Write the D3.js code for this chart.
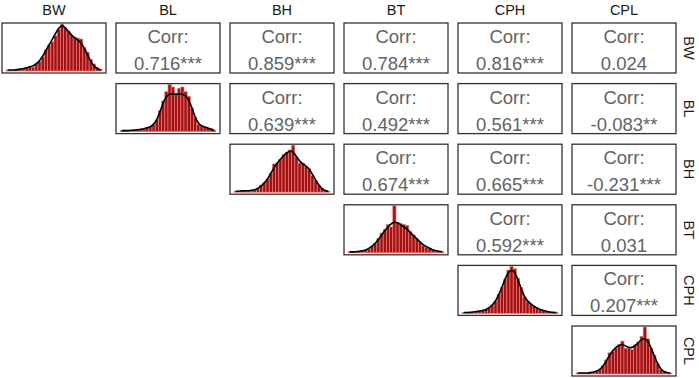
<!DOCTYPE html>
<html><head><meta charset="utf-8">
<script src="https://cdn.jsdelivr.net/npm/d3@7"></script>
<style>body{margin:0;background:#fff}svg{display:block}</style>
</head><body>
<script>
const variables = ["BW","BL","BH","BT","CPH","CPL"];
// correlation coefficients (upper triangle, row i, col j>i)
const corrBW  = ["0.716***","0.859***","0.784***","0.816***","0.024"];
const corrBL  = ["0.639***","0.492***","0.561***","-0.083**"];
const corrBH  = ["0.674***","0.665***","-0.231***"];
const corrBT  = ["0.592***","0.031"];
const corrCPH = ["0.207***"];
const corrRows = [corrBW, corrBL, corrBH, corrBT, corrCPH, []];

// histogram bar heights (relative) per variable, 30 bins
const histBW  = [0.02,0.02,0.02,0.03,0.03,0.05,0.08,0.1,0.08,0.15,0.2,0.3,0.45,0.55,0.62,0.75,0.88,1.0,0.92,0.85,0.75,0.72,0.7,0.68,0.5,0.4,0.25,0.15,0.08,0.04];
const histBL  = [0.02,0.02,0.02,0.03,0.03,0.04,0.05,0.06,0.08,0.1,0.15,0.25,0.45,0.65,0.85,1.0,0.95,0.82,0.92,0.95,0.85,0.75,0.5,0.3,0.15,0.12,0.1,0.08,0.06,0.03];
const histBH  = [0.02,0.02,0.03,0.03,0.04,0.03,0.05,0.08,0.15,0.2,0.28,0.4,0.6,0.62,0.7,0.8,0.85,0.9,1.0,0.75,0.62,0.62,0.55,0.5,0.35,0.25,0.15,0.08,0.04,0.02];
const histBT  = [0.02,0.02,0.02,0.03,0.04,0.06,0.08,0.14,0.2,0.3,0.42,0.5,0.6,0.55,1.0,0.65,0.62,0.6,0.58,0.45,0.38,0.3,0.22,0.15,0.12,0.1,0.06,0.04,0.03,0.02];
const histCPH = [0.02,0.02,0.02,0.03,0.04,0.05,0.06,0.08,0.12,0.18,0.25,0.4,0.55,0.72,0.92,1.0,0.95,0.75,0.55,0.35,0.25,0.2,0.15,0.12,0.08,0.06,0.05,0.03,0.02,0.02];
const histCPL = [0.02,0.02,0.02,0.02,0.03,0.04,0.06,0.1,0.18,0.3,0.45,0.48,0.55,0.62,0.7,0.55,0.55,0.52,0.62,0.68,0.8,1.0,0.75,0.55,0.4,0.22,0.1,0.05,0.03,0.02];
const hists = [histBW, histBL, histBH, histBT, histCPH, histCPL];

// density curve values at bin centres
const densBW  = [0.02,0.02,0.02,0.03,0.04,0.05,0.07,0.09,0.11,0.15,0.22,0.32,0.44,0.56,0.68,0.8,0.92,0.98,0.92,0.84,0.76,0.7,0.66,0.6,0.48,0.34,0.2,0.1,0.05,0.02];
const densBL  = [0.02,0.02,0.02,0.03,0.03,0.04,0.05,0.06,0.08,0.1,0.15,0.25,0.42,0.62,0.76,0.8,0.8,0.79,0.8,0.8,0.76,0.68,0.5,0.3,0.17,0.12,0.1,0.07,0.05,0.02];
const densBH  = [0.02,0.02,0.03,0.03,0.03,0.04,0.05,0.08,0.13,0.2,0.28,0.4,0.52,0.62,0.7,0.78,0.84,0.88,0.86,0.76,0.66,0.6,0.56,0.5,0.38,0.26,0.15,0.07,0.03,0.02];
const densBT  = [0.02,0.02,0.02,0.03,0.04,0.06,0.09,0.14,0.2,0.28,0.38,0.47,0.55,0.62,0.66,0.64,0.6,0.55,0.5,0.43,0.36,0.3,0.23,0.17,0.13,0.1,0.06,0.04,0.03,0.02];
const densCPH = [0.02,0.02,0.02,0.03,0.04,0.05,0.06,0.08,0.12,0.18,0.26,0.4,0.56,0.74,0.88,0.93,0.88,0.72,0.52,0.36,0.26,0.2,0.15,0.11,0.08,0.06,0.04,0.03,0.02,0.02];
const densCPL = [0.02,0.02,0.02,0.02,0.03,0.04,0.06,0.1,0.17,0.28,0.4,0.5,0.57,0.62,0.63,0.6,0.56,0.56,0.6,0.67,0.74,0.76,0.7,0.55,0.38,0.22,0.1,0.05,0.03,0.02];
const denss = [densBW, densBL, densBH, densBT, densCPH, densCPL];

const W = 699, H = 378;
const svg = d3.select("body").append("svg").attr("width", W).attr("height", H);

const colX = d3.scaleBand().domain(variables).range([2, 676]).paddingInner(10/114).paddingOuter(0);
const rowY = d3.scaleBand().domain(variables).range([23, 376]).paddingInner(10.6/60.6).paddingOuter(0);

const font = "'Liberation Sans', Arial, sans-serif";

// column strip labels
svg.selectAll("text.col").data(variables).join("text")
  .attr("x", d => colX(d) + colX.bandwidth()/2)
  .attr("y", 15)
  .attr("text-anchor", "middle")
  .attr("font-family", font).attr("font-size", 14.5).attr("fill", "#1a1a1a")
  .text(d => d);

// row strip labels (rotated)
svg.selectAll("text.row").data(variables).join("text")
  .attr("transform", d => `translate(${684},${rowY(d) + rowY.bandwidth()/2}) rotate(90)`)
  .attr("text-anchor", "middle")
  .attr("font-family", font).attr("font-size", 14.5).attr("fill", "#1a1a1a")
  .text(d => d);

const pw = colX.bandwidth(), ph = rowY.bandwidth();

variables.forEach((rv, i) => {
  variables.forEach((cv, j) => {
    if (j < i) return;
    const g = svg.append("g").attr("transform", `translate(${colX(cv)},${rowY(rv)})`);
    if (i === j) {
      const h = hists[i], dn = denss[i];
      const x = d3.scaleLinear().domain([0, h.length]).range([4, pw - 4]);
      const y = d3.scaleLinear().domain([0, 1]).range([ph - 2, 1]);
      g.selectAll("rect").data(h).join("rect")
        .attr("x", (d, k) => x(k))
        .attr("width", (d, k) => x(k+1) - x(k))
        .attr("y", d => y(d))
        .attr("height", d => y(0) - y(d))
        .attr("fill", "#a01212")
        .attr("stroke", "#f07a7a")
        .attr("stroke-width", 0.7);
      const line = d3.line().x((d, k) => x(k + 0.5)).y(d => y(d)).curve(d3.curveBasis);
      g.append("path").attr("d", line(dn)).attr("fill", "none")
        .attr("stroke", "#000").attr("stroke-width", 1.6);
    } else {
      const val = corrRows[i][j - i - 1];
      g.append("text").attr("x", pw/2).attr("y", 20).attr("text-anchor", "middle")
        .attr("font-family", font).attr("font-size", 18.5).attr("fill", "#636363").text("Corr:");
      g.append("text").attr("x", pw/2).attr("y", 47).attr("text-anchor", "middle")
        .attr("font-family", font).attr("font-size", 18.5).attr("fill", "#636363").text(val);
    }
    g.append("rect").attr("x", 0).attr("y", 0).attr("width", pw).attr("height", ph)
      .attr("fill", "none").attr("stroke", "#333").attr("stroke-width", 1.3);
  });
});
</script>
</body></html>
